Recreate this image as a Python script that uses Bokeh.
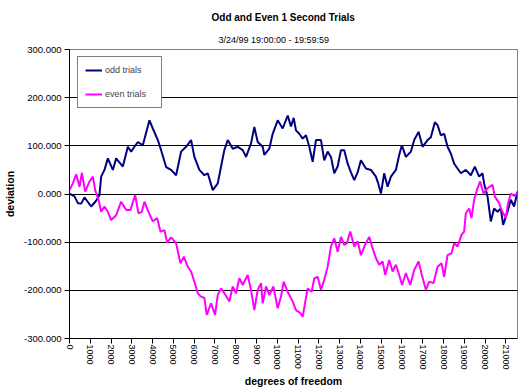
from bokeh.plotting import figure
from bokeh.models import Range1d, FixedTicker, NumeralTickFormatter, Legend, LegendItem, Title
from bokeh.embed import file_html
from bokeh.resources import INLINE

FONT = "Liberation Sans"

odd_x = [0, 240, 404, 563, 721, 1043, 1283, 1442, 1524, 1683, 1846, 2087, 2245, 2567, 2808,
         2966, 3125, 3289, 3529, 3846, 4010, 4250, 4409, 4650, 4890, 5130, 5371, 5611, 5851, 6010,
         6250, 6491, 6654, 6895, 7135, 7294, 7452, 7616, 7856, 8097, 8337, 8496, 8736, 8895, 9058,
         9299, 9376, 9616, 9779, 10020, 10260, 10501, 10659, 10789, 10900, 11058, 11222, 11381, 11539, 11703,
         11862, 12102, 12260, 12424, 12583, 12741, 12905, 13064, 13222, 13386, 13545, 13703, 13867, 14025, 14266,
         14506, 14746, 14857, 14987, 15145, 15309, 15468, 15708, 15866, 15996, 16188, 16429, 16588, 16799, 16992,
         17232, 17390, 17583, 17713, 17871, 18030, 18193, 18352, 18511, 18674, 18833, 19073, 19314, 19506, 19713,
         19876, 19953, 20117, 20276, 20434, 20598, 20756, 20867, 21079, 21237, 21396, 21560]
odd_y = [1, -5, -19, -20, -7, -26, -14, -2, 36, 50, 74, 50, 74, 57, 98,
         88, 98, 108, 101, 153, 136, 112, 91, 56, 50, 39, 88, 98, 112, 77,
         50, 39, 43, 8, 22, 57, 91, 112, 94, 98, 91, 77, 105, 139, 108,
         98, 81, 94, 125, 153, 136, 163, 140, 158, 132, 125, 115, 122, 98, 67,
         112, 112, 70, 88, 77, 43, 57, 91, 91, 63, 45, 29, 45, 70, 53,
         50, 36, 22, 1, 43, 15, 36, 50, 81, 101, 77, 88, 112, 129, 98,
         112, 118, 149, 143, 122, 125, 98, 84, 63, 53, 43, 50, 39, 57, 36,
         43, 22, -5, -57, -30, -37, -30, -64, -37, -12, -26, 5]

even_x = [0, 160, 322, 482, 595, 755, 963, 1124, 1236, 1396, 1524, 1684, 1845, 2005, 2245,
          2486, 2726, 2934, 3159, 3319, 3479, 3607, 3800, 4008, 4217, 4377, 4569, 4697, 4890, 5130,
          5338, 5499, 5691, 5851, 6011, 6172, 6332, 6492, 6604, 6813, 7005, 7133, 7294, 7454, 7694,
          7855, 8015, 8175, 8336, 8576, 8736, 8896, 9057, 9217, 9297, 9457, 9617, 9810, 10018, 10179,
          10307, 10499, 10739, 10900, 11108, 11222, 11333, 11461, 11653, 11781, 11942, 12102, 12260, 12424, 12583,
          12741, 12905, 13064, 13222, 13352, 13512, 13703, 13867, 14025, 14218, 14426, 14586, 14746, 14907, 15067,
          15195, 15387, 15548, 15708, 15866, 16005, 16188, 16396, 16588, 16799, 16958, 17150, 17310, 17519, 17713,
          17904, 18030, 18193, 18384, 18511, 18674, 18865, 18993, 19073, 19234, 19346, 19474, 19602, 19763, 19923,
          20117, 20356, 20468, 20676, 20788, 20996, 21108, 21237, 21396, 21560]
even_y = [8, 22, 41, 15, 44, 5, 26, 36, 8, -12, -37, -26, -37, -54, -44,
          -16, -33, -33, -2, -40, -37, -16, -37, -57, -50, -78, -75, -101, -90, -102,
          -144, -130, -151, -161, -182, -206, -213, -216, -251, -227, -251, -210, -196, -206, -223,
          -192, -206, -175, -189, -168, -199, -241, -199, -185, -227, -192, -210, -192, -237, -213,
          -182, -203, -223, -241, -247, -255, -227, -196, -203, -175, -172, -199, -178, -151, -109,
          -92, -120, -89, -106, -102, -78, -109, -98, -127, -106, -89, -113, -133, -147, -140,
          -168, -137, -161, -147, -168, -189, -164, -189, -158, -140, -168, -199, -182, -185, -151,
          -144, -172, -127, -123, -102, -109, -85, -78, -40, -30, -50, -12, 8, 26, 1,
          12, 19, -5, -19, -33, -50, -19, 1, -4, 2]

x_ticks = list(range(0, 22000, 1000))
y_ticks = [-300, -200, -100, 0, 100, 200, 300]
grid_ticks = [-200, -100, 0, 100, 200]

title_text = "Odd and Even 1 Second Trials"
subtitle_text = "3/24/99 19:00:00 - 19:59:59"
x_label = "degrees of freedom"
y_label = "deviation"

p = figure(width=531, height=389, output_backend="svg", toolbar_location=None, title=None,
           x_range=Range1d(0, 21560), y_range=Range1d(-300, 300),
           min_border_left=68, min_border_right=14, min_border_top=49, min_border_bottom=51)
p.background_fill_color = "white"
p.border_fill_color = "white"
p.outline_line_color = "#808080"
p.outline_line_width = 1

p.xgrid.visible = False
p.ygrid.ticker = FixedTicker(ticks=grid_ticks)
p.ygrid.grid_line_color = "black"
p.ygrid.grid_line_width = 1

for ax in (p.xaxis[0], p.yaxis[0]):
    ax.axis_line_color = "black"
    ax.axis_line_width = 1
    ax.major_tick_line_color = "black"
    ax.major_tick_in = 0
    ax.major_tick_out = 5
    ax.minor_tick_line_color = None
    ax.major_label_text_font = FONT
    ax.major_label_text_color = "black"
    ax.axis_label_text_font = FONT
    ax.axis_label_text_font_style = "bold"
    ax.axis_label_text_font_size = "10.5px"
    ax.axis_label_text_color = "black"

p.xaxis.ticker = FixedTicker(ticks=x_ticks)
p.xaxis.major_label_orientation = "vertical"
p.xaxis.major_label_text_font_size = "9px"
p.xaxis.major_label_standoff = 1
p.xaxis.axis_label = x_label
p.xaxis.axis_label_standoff = 2

p.yaxis.ticker = FixedTicker(ticks=y_ticks)
p.yaxis.formatter = NumeralTickFormatter(format="0.000")
p.yaxis.major_label_text_font_size = "9.5px"
p.yaxis.major_label_standoff = 3
p.yaxis.axis_label = y_label
p.yaxis.axis_label_standoff = 5

r_odd = p.line(odd_x, odd_y, line_color="#000080", line_width=2)
r_even = p.line(even_x, even_y, line_color="#FF00FF", line_width=2)

legend = Legend(items=[LegendItem(label="odd trials", renderers=[r_odd]),
                       LegendItem(label="even trials", renderers=[r_even])],
                location=(8, 230), margin=0, padding=7, spacing=12,
                glyph_width=17, glyph_height=12, label_height=12, label_standoff=3, label_width=49,
                label_text_font=FONT, label_text_font_size="9px",
                border_line_color="black", border_line_width=1,
                background_fill_color="white", background_fill_alpha=1)
p.add_layout(legend)

p.add_layout(Title(text=subtitle_text, align="left", offset=149, standoff=10, vertical_align="bottom",
                   text_font=FONT, text_font_size="9px", text_font_style="normal",
                   text_color="black"), "above")
p.add_layout(Title(text=title_text, align="left", offset=142, standoff=10, vertical_align="bottom",
                   text_font=FONT, text_font_size="10px", text_font_style="bold",
                   text_color="black"), "above")

open("out.html", "w").write(file_html(p, INLINE))
